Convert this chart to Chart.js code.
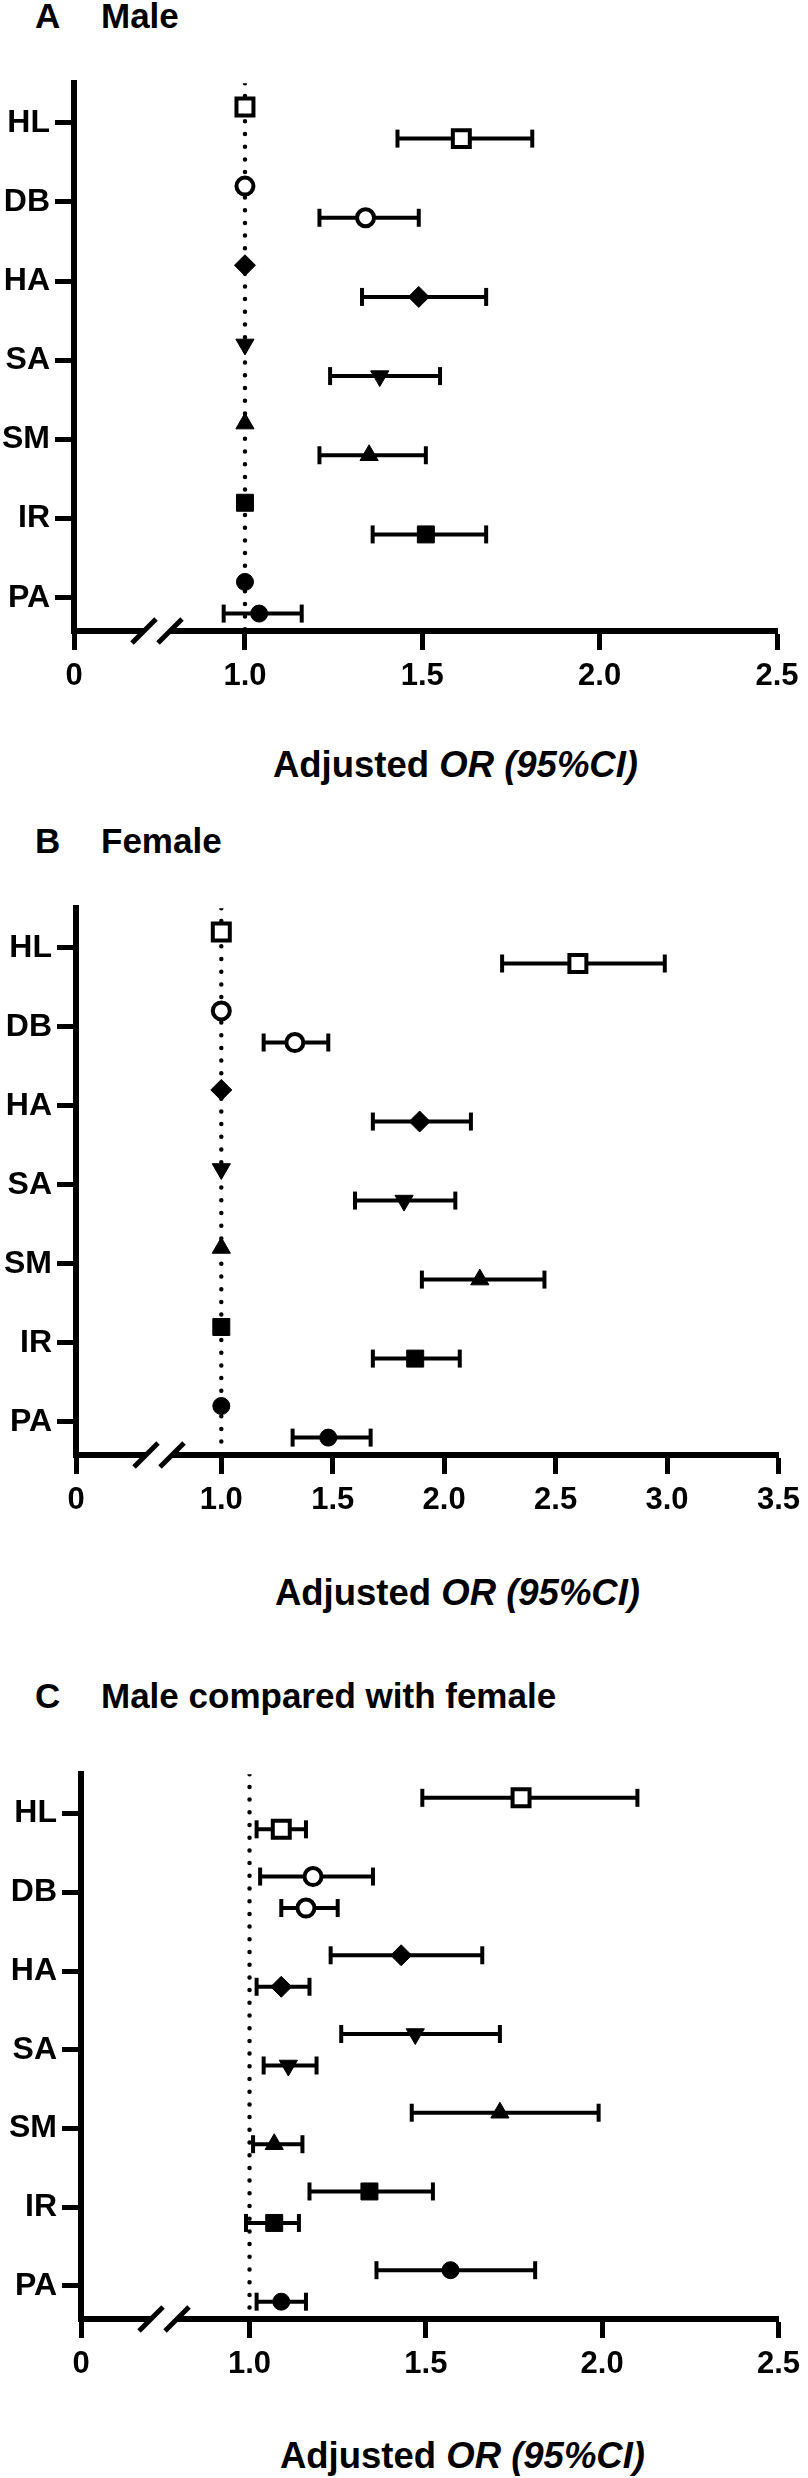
<!DOCTYPE html>
<html>
<head>
<meta charset="utf-8">
<script src="https://cdn.jsdelivr.net/npm/chart.js@4.4.0/dist/chart.umd.min.js"></script>
<style>
  html, body { margin: 0; padding: 0; background: #fff; }
  #page { position: relative; width: 808px; height: 2478px; font-family: "Liberation Sans", Arial, sans-serif; font-weight: bold; color: #000; }
  .head { position: absolute; font-size: 35px; line-height: 34px; white-space: nowrap; }
  .xtitle { position: absolute; font-size: 36.5px; line-height: 40px; white-space: nowrap; transform: translate(-50%, -50%); }
  canvas { position: absolute; left: 0; }
</style>
</head>
<body>
<div id="page"></div>
<script>
// categories (top to bottom)
var categories = ['HL', 'DB', 'HA', 'SA', 'SM', 'IR', 'PA'];
var refOR = 1.0;
var refRow = [1.0, 1.0, 1.0, 1.0, 1.0, 1.0, 1.0];

// A: male
var maleOR = [1.61, 1.34, 1.49, 1.38, 1.35, 1.51, 1.04];
var maleLo = [1.43, 1.21, 1.33, 1.24, 1.21, 1.36, 0.94];
var maleHi = [1.81, 1.49, 1.68, 1.55, 1.51, 1.68, 1.16];

// B: female
var femaleOR = [2.60, 1.33, 1.89, 1.82, 2.16, 1.87, 1.48];
var femaleLo = [2.26, 1.19, 1.68, 1.60, 1.90, 1.68, 1.32];
var femaleHi = [2.99, 1.48, 2.12, 2.05, 2.45, 2.07, 1.67];

// C: male compared with female (upper and lower rows)
var cmpUpperOR = [1.77, 1.18, 1.43, 1.47, 1.71, 1.34, 1.57];
var cmpUpperLo = [1.49, 1.03, 1.23, 1.26, 1.46, 1.17, 1.36];
var cmpUpperHi = [2.10, 1.35, 1.66, 1.71, 1.99, 1.52, 1.81];
var cmpLowerOR = [1.09, 1.16, 1.09, 1.11, 1.07, 1.07, 1.09];
var cmpLowerLo = [1.02, 1.09, 1.02, 1.04, 1.01, 0.99, 1.02];
var cmpLowerHi = [1.16, 1.25, 1.17, 1.19, 1.15, 1.14, 1.16];

// x ticks (the "0" tick sits just left of the axis break)
var ticksA = [1.0, 1.5, 2.0, 2.5];
var ticksB = [1.0, 1.5, 2.0, 2.5, 3.0, 3.5];
var ticksC = [1.0, 1.5, 2.0, 2.5];
var zeroA = 0.518, zeroB = 0.348, zeroC = 0.522;

// marker look per category
var markerStyle = ['rect', 'circle', 'rectRot', 'triangle', 'triangle', 'rect', 'circle'];
var markerRotation = [0, 0, 0, 180, 0, 0, 0];
var markerRadius = [12, 8.5, 10.5, 10.5, 10.5, 12, 8.5];
var markerHollow = [true, true, false, false, false, false, false];

Chart.defaults.font.family = '"Liberation Sans", Arial, sans-serif';
Chart.defaults.font.weight = 'bold';
Chart.defaults.color = '#000';

var axisBreak = {
  id: 'axisBreak',
  afterDraw: function (chart) {
    var xs = chart.scales.x, ctx = chart.ctx, y = chart.chartArea.bottom;
    var p0 = xs.getPixelForValue(xs.min);
    var a = p0 + 70, b = p0 + 96;
    ctx.save();
    ctx.fillStyle = '#fff';
    ctx.fillRect(a, y - 5, b - a, 10);
    ctx.strokeStyle = '#000';
    ctx.lineWidth = 5;
    [a, b].forEach(function (cx) {
      ctx.beginPath();
      ctx.moveTo(cx - 12, y + 12);
      ctx.lineTo(cx + 12, y - 12);
      ctx.stroke();
    });
    ctx.restore();
  }
};

var panels = [
  { letter: 'A', name: 'Male', zero: zeroA, ticks: ticksA, refLine: true,
    rows: [{ or: refRow, offset: -0.2 }, { or: maleOR, lo: maleLo, hi: maleHi, offset: 0.2 }],
    top: 79, bottom: 631, left: 74, right: 777, headY: 16, titleY: 765 },
  { letter: 'B', name: 'Female', zero: zeroB, ticks: ticksB, refLine: true,
    rows: [{ or: refRow, offset: -0.2 }, { or: femaleOR, lo: femaleLo, hi: femaleHi, offset: 0.2 }],
    top: 904, bottom: 1455, left: 76, right: 779, headY: 841, titleY: 1593 },
  { letter: 'C', name: 'Male compared with female', zero: zeroC, ticks: ticksC, refLine: true,
    rows: [{ or: cmpUpperOR, lo: cmpUpperLo, hi: cmpUpperHi, offset: -0.2 },
           { or: cmpLowerOR, lo: cmpLowerLo, hi: cmpLowerHi, offset: 0.2 }],
    top: 1770, bottom: 2319, left: 81, right: 784, headY: 1696, titleY: 2456 }
];

var page = document.getElementById('page');
var yMin = -0.5, yMax = 6.42;

panels.forEach(function (p) {
  var h1 = document.createElement('div');
  h1.className = 'head';
  h1.style.left = '35px';
  h1.style.top = (p.headY - 17) + 'px';
  h1.textContent = p.letter;
  page.appendChild(h1);
  var h2 = document.createElement('div');
  h2.className = 'head';
  h2.style.left = '101px';
  h2.style.top = (p.headY - 17) + 'px';
  h2.textContent = p.name;
  page.appendChild(h2);

  var t = document.createElement('div');
  t.className = 'xtitle';
  t.style.left = ((p.left + p.right) / 2 + 30) + 'px';
  t.style.top = p.titleY + 'px';
  t.innerHTML = 'Adjusted <i>OR (95%CI)</i>';
  page.appendChild(t);

  var padTop = 20, xAxisH = 80;
  var canvas = document.createElement('canvas');
  canvas.width = 808;
  canvas.height = (p.bottom + xAxisH) - (p.top - padTop);
  canvas.style.top = (p.top - padTop) + 'px';
  page.appendChild(canvas);

  var datasets = [];
  // markers first so they sit on top
  p.rows.forEach(function (r) {
    datasets.push({
      data: r.or.map(function (v, i) { return { x: v, y: i + r.offset }; }),
      showLine: false,
      pointStyle: markerStyle,
      pointRotation: markerRotation,
      pointRadius: markerRadius,
      pointBackgroundColor: markerHollow.map(function (h) { return h ? '#fff' : '#000'; }),
      pointBorderColor: '#000',
      pointBorderWidth: markerHollow.map(function (h) { return h ? 4 : 1; }),
      clip: false
    });
  });
  p.rows.forEach(function (r) {
    if (!r.lo) return;
    var pts = [];
    r.lo.forEach(function (lo, i) {
      pts.push({ x: lo, y: i + r.offset }, { x: r.hi[i], y: i + r.offset }, { x: null, y: null });
    });
    datasets.push({
      data: pts,
      showLine: true,
      spanGaps: false,
      borderColor: '#000',
      borderWidth: 4,
      pointStyle: 'line',
      pointRotation: 90,
      pointRadius: 9,
      pointBorderWidth: 4,
      pointBorderColor: '#000',
      clip: false
    });
  });
  if (p.refLine) {
    datasets.push({
      data: [{ x: refOR, y: yMin }, { x: refOR, y: yMax }],
      showLine: true,
      borderColor: '#000',
      borderWidth: 4.5,
      borderDash: [0, 12.7],
      borderCapStyle: 'round',
      pointRadius: 0
    });
  }

  new Chart(canvas, {
    type: 'scatter',
    data: { datasets: datasets },
    plugins: [axisBreak],
    options: {
      responsive: false,
      animation: false,
      events: [],
      layout: { padding: { top: padTop, right: 808 - p.right, left: 0, bottom: 0 } },
      plugins: { legend: { display: false }, tooltip: { enabled: false } },
      scales: {
        x: {
          type: 'linear',
          min: p.zero,
          max: p.ticks[p.ticks.length - 1],
          afterBuildTicks: function (s) {
            s.ticks = [p.zero].concat(p.ticks).map(function (v) { return { value: v }; });
          },
          afterFit: function (s) { s.height = xAxisH; },
          ticks: {
            autoSkip: false,
            maxRotation: 0,
            padding: 8,
            color: '#000',
            font: { size: 31, weight: 'bold' },
            callback: function (v) { return v === p.zero ? '0' : v.toFixed(1); }
          },
          grid: { drawOnChartArea: false, tickLength: 19, tickWidth: 5, tickColor: '#000' },
          border: { width: 6, color: '#000' }
        },
        y: {
          type: 'linear',
          reverse: true,
          min: yMin,
          max: yMax,
          afterBuildTicks: function (s) {
            s.ticks = categories.map(function (c, i) { return { value: i }; });
          },
          afterFit: function (s) { s.width = p.left; },
          ticks: {
            autoSkip: false,
            padding: 5,
            color: '#000',
            font: { size: 32, weight: 'bold' },
            callback: function (v) { return categories[v]; }
          },
          grid: { drawOnChartArea: false, tickLength: 19, tickWidth: 5, tickColor: '#000' },
          border: { width: 6, color: '#000' }
        }
      }
    }
  });
});
</script>
</body>
</html>
